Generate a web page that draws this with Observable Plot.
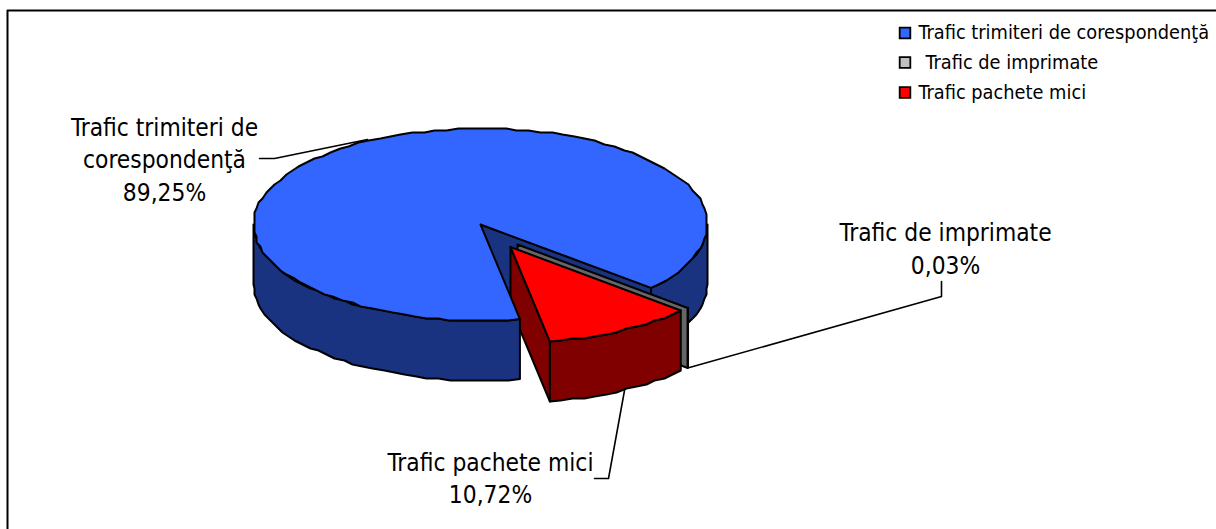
<!DOCTYPE html>
<html><head><meta charset="utf-8">
<script src="https://cdn.jsdelivr.net/npm/d3@7"></script>
<script src="https://cdn.jsdelivr.net/npm/@observablehq/plot@0.6"></script>
<style>html,body{margin:0;padding:0;background:#fff}</style>
</head><body><div id="chart"></div>
<script>
const categories = ["Trafic trimiteri de corespondenţă", "Trafic de imprimate", "Trafic pachete mici"];
const shares = [89.25, 0.03, 10.72];
const shareLabels = ["89,25%", "0,03%", "10,72%"];

const topColors = ["#3366FF", "#C0C0C0", "#FF0000"];
const sideColors = ["#1A3380", "#666666", "#800000"];
const startAngle = 170;
const rx = 227, ry = 96, depth = 60;
const centers = [[480, 224], [517, 244], [510, 246.5]];

let a = startAngle;
const spans = shares.map(s => { const from = a; a += s * 3.6; return [from, a]; });
const pt = (i, deg, dy = 0) => {
  const r = deg * Math.PI / 180;
  return {x: centers[i][0] + rx * Math.sin(r), y: centers[i][1] - ry * Math.cos(r) + dy};
};
const arc = (i, from, to, dy = 0) => {
  const n = Math.max(1, Math.ceil(Math.abs(to - from) / 3));
  return d3.range(n + 1).map(k => {
    const p = pt(i, from + (to - from) * k / n, dy);
    return k === 0 || k === n ? p : {x: Math.round(p.x / 2) * 2, y: Math.round(p.y / 2) * 2};
  });
};
const apex = (i, dy = 0) => ({x: centers[i][0], y: centers[i][1] + dy});
const face = (pts, fill) => Plot.line(pts, {x: "x", y: "y", fill, stroke: "#000", strokeWidth: 2, curve: "linear-closed", strokeLinejoin: "round"});
const wall = (i, from, to) => [...arc(i, from, to), ...arc(i, to, from, depth)];
const radial = (i, deg) => [apex(i), pt(i, deg), pt(i, deg, depth), apex(i, depth)];
const polyline = pts => Plot.line(pts, {x: "x", y: "y", stroke: "#000", strokeWidth: 1.6, curve: "linear"});

const [b0, b1] = spans[0], [g0, g1] = spans[1], [r0, r1] = spans[2];
const bEnd = b1 - 360, rStart = r0, rEnd = r1;

const labelFont = {fontSize: 24.3, fill: "#000", textAnchor: "middle", lineAnchor: "middle", lineHeight: 1.34};
const legendFont = {fontSize: 19.8, fill: "#000", textAnchor: "start", lineAnchor: "middle"};
const legendY = [32.5, 62, 92];
const legendX = [918, 925, 918];

const chart = Plot.plot({
  width: 1216, height: 529, margin: 0,
  x: {domain: [0, 1216], range: [0, 1216], axis: null},
  y: {domain: [0, 529], range: [0, 529], axis: null},
  style: {fontFamily: "'DejaVu Sans', sans-serif", fontStretch: "condensed", background: "#fff"},
  marks: [
    Plot.line([{x: 7, y: 529}, {x: 7, y: 10}, {x: 1216, y: 10}], {x: "x", y: "y", stroke: "#000", strokeWidth: 2}),
    face(radial(0, bEnd), sideColors[0]),
    face(wall(0, 90, bEnd), sideColors[0]),
    face(radial(1, g1), sideColors[1]),
    face(radial(2, rEnd), sideColors[2]),
    face(wall(0, b0, 270), sideColors[0]),
    face([apex(0), ...arc(0, b0, b1)], topColors[0]),
    face(wall(1, g0, g1), sideColors[1]),
    face(wall(2, rStart, rEnd), sideColors[2]),
    face([apex(2), ...arc(2, rStart, rEnd)], topColors[2]),
    polyline([{x: 259, y: 158}, {x: 274, y: 158}, {x: 367, y: 139}]),
    polyline([{x: 941, y: 281}, {x: 941, y: 296}, {x: 689, y: 367}]),
    polyline([{x: 594, y: 478}, {x: 608, y: 478}, {x: 624, y: 390}]),
    Plot.text([categories[0].replace(" de ", " de\n") + "\n" + shareLabels[0]], {x: () => 164, y: () => 157.5, text: d => d, ...labelFont}),
    Plot.text([categories[1] + "\n" + shareLabels[1]], {x: () => 945, y: () => 246.5, text: d => d, ...labelFont}),
    Plot.text([categories[2] + "\n" + shareLabels[2]], {x: () => 490, y: () => 476, text: d => d, ...labelFont}),
    Plot.dot(categories, {x: (d, i) => 904.5, y: (d, i) => legendY[i], symbol: "square", r: 6, fill: (d, i) => topColors[i], stroke: "#000", strokeWidth: 1.8}),
    Plot.text(categories, {x: (d, i) => legendX[i], y: (d, i) => legendY[i], text: d => d, ...legendFont})
  ]
});
document.getElementById("chart").append(chart);
</script></body></html>
